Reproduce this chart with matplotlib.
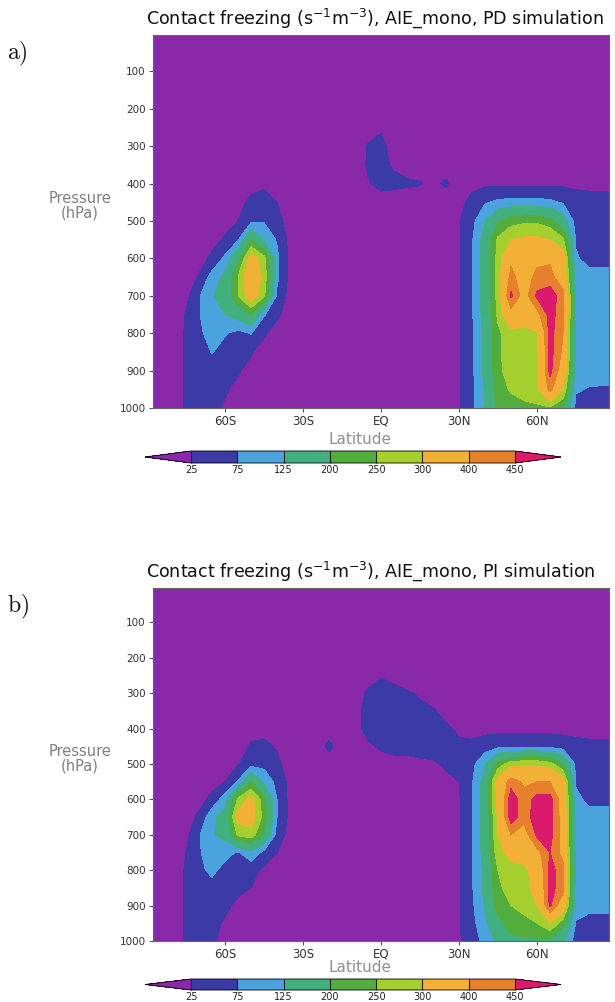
import numpy as np
import matplotlib.pyplot as plt
from matplotlib.colors import from_levels_and_colors

# zonal-mean grid: latitude every 5 deg, pressure levels in hPa
LATS = list(range(-90, 91, 5))
PLEVS = [0, 200, 250, 300, 350, 400, 450, 500, 550, 600, 650, 700, 750, 800, 850, 900, 950, 1000]

LEVELS = [25, 75, 125, 200, 250, 300, 400, 450]
COLORS = ['#8a28aa', '#3c3aa6', '#4ba3de', '#42b07e', '#52ad3c',
          '#a5cf2e', '#f2b136', '#e6802c', '#dc1a6c']

LAT_TICKS = [-60, -30, 0, 30, 60]
LAT_LABELS = ['60S', '30S', 'EQ', '30N', '60N']
P_TICKS = [100, 200, 300, 400, 500, 600, 700, 800, 900, 1000]

# contact freezing rate, present-day run
#        -90 ............................ -30 | -25 ..................... 25 | 30 ................................. 90
FRZ_PD = [
    [0] * 37,
    [0] * 37,
    [0, 0, 0, 0, 0, 0, 0, 0, 0, 0, 0, 0, 0, 0, 0, 0, 0, 5, 20, 0, 0, 0, 0, 0, 0, 0, 0, 0, 0, 0, 0, 0, 0, 0, 0, 0, 0],
    [0, 0, 0, 0, 0, 0, 0, 0, 0, 0, 0, 0, 0, 0, 0, 0, 0, 28, 35, 10, 0, 0, 0, 0, 0, 0, 0, 0, 0, 0, 0, 0, 0, 0, 0, 0, 0],
    [0, 0, 0, 0, 0, 0, 0, 0, 0, 0, 0, 0, 0, 0, 0, 0, 0, 30, 35, 20, 5, 0, 0, 0, 0, 0, 0, 0, 0, 0, 0, 0, 0, 0, 0, 0, 0],
    [0, 0, 0, 0, 0, 0, 0, 0, 10, 15, 0, 0, 0, 0, 0, 0, 0, 22, 35, 35, 32, 28, 15, 32, 0, 10, 15, 15, 15, 15, 15, 15, 15, 15, 15, 15, 15],
    [0, 0, 0, 0, 0, 0, 0, 10, 35, 45, 25, 0, 0, 0, 0, 0, 0, 5, 10, 5, 0, 0, 0, 0, 10, 40, 70, 85, 90, 90, 90, 85, 70, 45, 40, 40, 40],
    [0, 0, 0, 0, 0, 0, 10, 25, 60, 70, 40, 5, 0, 0, 0, 0, 0, 0, 0, 0, 0, 0, 0, 0, 20, 60, 120, 190, 230, 240, 240, 220, 150, 55, 45, 45, 45],
    [0, 0, 0, 0, 0, 10, 30, 70, 200, 120, 70, 10, 0, 0, 0, 0, 0, 0, 0, 0, 0, 0, 0, 0, 20, 70, 150, 260, 300, 310, 310, 300, 260, 70, 50, 50, 50],
    [0, 0, 0, 0, 5, 35, 85, 180, 330, 270, 85, 10, 0, 0, 0, 0, 0, 0, 0, 0, 0, 0, 0, 0, 20, 70, 150, 270, 385, 350, 380, 390, 340, 80, 60, 60, 60],
    [0, 0, 0, 0, 30, 95, 140, 250, 360, 285, 85, 10, 0, 0, 0, 0, 0, 0, 0, 0, 0, 0, 0, 0, 20, 70, 150, 270, 420, 360, 420, 420, 360, 100, 90, 90, 90],
    [0, 0, 0, 10, 70, 120, 150, 250, 340, 260, 65, 5, 0, 0, 0, 0, 0, 0, 0, 0, 0, 0, 0, 0, 20, 70, 150, 270, 460, 370, 460, 480, 420, 110, 100, 100, 100],
    [0, 0, 0, 28, 72, 110, 125, 150, 200, 80, 35, 0, 0, 0, 0, 0, 0, 0, 0, 0, 0, 0, 0, 0, 20, 70, 150, 260, 370, 340, 380, 470, 420, 110, 100, 100, 100],
    [0, 0, 0, 30, 65, 95, 80, 60, 78, 30, 5, 0, 0, 0, 0, 0, 0, 0, 0, 0, 0, 0, 0, 0, 20, 65, 140, 240, 280, 280, 290, 470, 400, 110, 100, 100, 100],
    [0, 0, 5, 30, 45, 78, 50, 35, 28, 10, 0, 0, 0, 0, 0, 0, 0, 0, 0, 0, 0, 0, 0, 0, 20, 65, 140, 240, 275, 280, 285, 470, 390, 110, 100, 100, 100],
    [0, 0, 5, 30, 35, 45, 35, 28, 15, 0, 0, 0, 0, 0, 0, 0, 0, 0, 0, 0, 0, 0, 0, 0, 20, 65, 140, 240, 270, 275, 285, 465, 360, 100, 95, 95, 95],
    [0, 0, 5, 30, 32, 35, 28, 18, 5, 0, 0, 0, 0, 0, 0, 0, 0, 0, 0, 0, 0, 0, 0, 0, 20, 60, 130, 230, 255, 265, 285, 420, 300, 80, 72, 70, 70],
    [0, 0, 5, 30, 30, 30, 22, 10, 0, 0, 0, 0, 0, 0, 0, 0, 0, 0, 0, 0, 0, 0, 0, 0, 20, 60, 130, 210, 230, 240, 240, 240, 200, 60, 40, 35, 35],
]

# contact freezing rate, pre-industrial run
FRZ_PI = [
    [0] * 37,
    [0] * 37,
    [0, 0, 0, 0, 0, 0, 0, 0, 0, 0, 0, 0, 0, 0, 0, 0, 0, 10, 22, 15, 0, 0, 0, 0, 0, 0, 0, 0, 0, 0, 0, 0, 0, 0, 0, 0, 0],
    [0, 0, 0, 0, 0, 0, 0, 0, 0, 0, 0, 0, 0, 0, 0, 0, 10, 30, 40, 35, 30, 20, 10, 0, 0, 0, 0, 0, 0, 0, 0, 0, 0, 0, 0, 0, 0],
    [0, 0, 0, 0, 0, 0, 0, 0, 0, 0, 0, 0, 0, 0, 0, 0, 15, 35, 45, 40, 40, 35, 28, 15, 0, 0, 0, 0, 0, 0, 0, 0, 0, 0, 0, 0, 0],
    [0, 0, 0, 0, 0, 0, 0, 0, 10, 10, 0, 0, 0, 0, 0, 0, 15, 35, 45, 45, 40, 40, 35, 30, 20, 10, 10, 10, 10, 10, 10, 10, 10, 10, 10, 10, 10],
    [0, 0, 0, 0, 0, 0, 0, 5, 30, 35, 20, 0, 0, 0, 36, 0, 0, 20, 30, 35, 35, 35, 35, 35, 30, 35, 50, 60, 65, 65, 65, 60, 50, 40, 35, 35, 35],
    [0, 0, 0, 0, 0, 0, 5, 20, 55, 60, 35, 5, 0, 0, 0, 0, 0, 0, 10, 15, 15, 20, 22, 28, 30, 60, 120, 220, 280, 290, 290, 270, 200, 60, 45, 45, 45],
    [0, 0, 0, 0, 0, 5, 25, 80, 200, 110, 60, 10, 0, 0, 0, 0, 0, 0, 0, 0, 0, 0, 10, 20, 25, 70, 150, 330, 430, 390, 400, 400, 340, 70, 50, 50, 50],
    [0, 0, 0, 0, 5, 40, 100, 260, 320, 220, 75, 10, 0, 0, 0, 0, 0, 0, 0, 0, 0, 0, 0, 0, 20, 70, 150, 320, 480, 420, 470, 470, 360, 85, 65, 65, 65],
    [0, 0, 0, 0, 35, 110, 150, 320, 330, 230, 75, 10, 0, 0, 0, 0, 0, 0, 0, 0, 0, 0, 0, 0, 20, 70, 150, 310, 480, 420, 480, 470, 370, 95, 90, 90, 90],
    [0, 0, 0, 10, 70, 120, 140, 260, 280, 190, 55, 5, 0, 0, 0, 0, 0, 0, 0, 0, 0, 0, 0, 0, 20, 70, 150, 300, 400, 370, 460, 470, 370, 100, 100, 100, 100],
    [0, 0, 0, 25, 70, 100, 90, 70, 110, 60, 25, 0, 0, 0, 0, 0, 0, 0, 0, 0, 0, 0, 0, 0, 20, 70, 150, 280, 320, 330, 380, 450, 380, 105, 100, 100, 100],
    [0, 0, 0, 30, 65, 85, 60, 45, 40, 15, 0, 0, 0, 0, 0, 0, 0, 0, 0, 0, 0, 0, 0, 0, 20, 70, 140, 250, 280, 285, 330, 470, 420, 105, 100, 100, 100],
    [0, 0, 5, 30, 40, 60, 40, 30, 25, 5, 0, 0, 0, 0, 0, 0, 0, 0, 0, 0, 0, 0, 0, 0, 20, 70, 140, 240, 270, 280, 320, 470, 420, 100, 100, 100, 100],
    [0, 0, 5, 30, 35, 40, 30, 20, 10, 0, 0, 0, 0, 0, 0, 0, 0, 0, 0, 0, 0, 0, 0, 0, 20, 65, 130, 220, 250, 260, 300, 460, 350, 100, 95, 95, 95],
    [0, 0, 5, 30, 32, 32, 22, 10, 0, 0, 0, 0, 0, 0, 0, 0, 0, 0, 0, 0, 0, 0, 0, 0, 20, 60, 110, 180, 230, 240, 250, 300, 220, 70, 50, 50, 50],
    [0, 0, 5, 30, 30, 28, 18, 5, 0, 0, 0, 0, 0, 0, 0, 0, 0, 0, 0, 0, 0, 0, 0, 0, 20, 50, 90, 140, 180, 190, 190, 180, 140, 50, 35, 30, 30],
]

TITLE = r'Contact freezing (s$^{-1}$m$^{-3}$), AIE_mono, %s simulation'

W, H = 615, 1002


def box(x0, y0, x1, y1):
    # pixel box (top-left origin) -> figure fraction rect
    return [x0 / W, 1 - y1 / H, (x1 - x0) / W, (y1 - y0) / H]


cmap, norm = from_levels_and_colors(LEVELS, COLORS, extend='both')

fig = plt.figure(figsize=(W / 100, H / 100), dpi=100)

# (tag, run, data, axes box, colorbar box, vertical shift of the text block, latitude label gap)
panels = [
    ('a)', 'PD', FRZ_PD, (152.6, 35, 609.4, 408), (145, 451, 561, 463), 0, 32),
    ('b)', 'PI', FRZ_PI, (152.6, 588, 609.4, 941), (145, 979, 561, 990), 553, 27),
]

for tag, run, data, abox, cbox, dy, lgap in panels:
    ax = fig.add_axes(box(*abox))
    cs = ax.contourf(LATS, PLEVS, np.array(data), levels=LEVELS,
                     cmap=cmap, norm=norm, extend='both')
    ax.set_facecolor(COLORS[0])
    ax.set_xlim(-87.86, 87.86)
    ax.set_ylim(1000, 3)
    ax.set_xticks(LAT_TICKS, LAT_LABELS)
    ax.set_yticks(P_TICKS)
    ax.tick_params(direction='out', length=3, width=0.6, labelsize=7.5,
                   colors='#333333', pad=2)
    ax.tick_params(axis='x', labelsize=8.5)
    for s in ax.spines.values():
        s.set_color('#666666')
        s.set_linewidth(0.8)

    fig.text(146 / W, 1 - (18 + dy) / H, TITLE % run, ha='left', va='center',
             fontsize=12.6, color='#111111')
    fig.text(7 / W, 1 - (54 + dy) / H, r'$\mathrm{%s}$' % tag, math_fontfamily='cm',
             ha='left', va='center', fontsize=17, color='#111111')
    fig.text(80 / W, 1 - (206 + dy) / H, 'Pressure\n(hPa)', ha='center', va='center',
             fontsize=10.5, color='#808080', linespacing=0.95)
    fig.text(360 / W, 1 - (abox[3] + lgap) / H, 'Latitude', ha='center', va='center',
             fontsize=11, color='#909090')

    cax = fig.add_axes(box(*cbox))
    cb = fig.colorbar(cs, cax=cax, orientation='horizontal', extendfrac=0.142,
                      drawedges=True, ticks=LEVELS)
    cb.outline.set_linewidth(0.6)
    cb.dividers.set_linewidth(0.8)
    cb.dividers.set_color('#222222')
    cax.tick_params(length=0, labelsize=7, pad=1.5, colors='#222222')

fig.savefig('out.png', dpi=100)
